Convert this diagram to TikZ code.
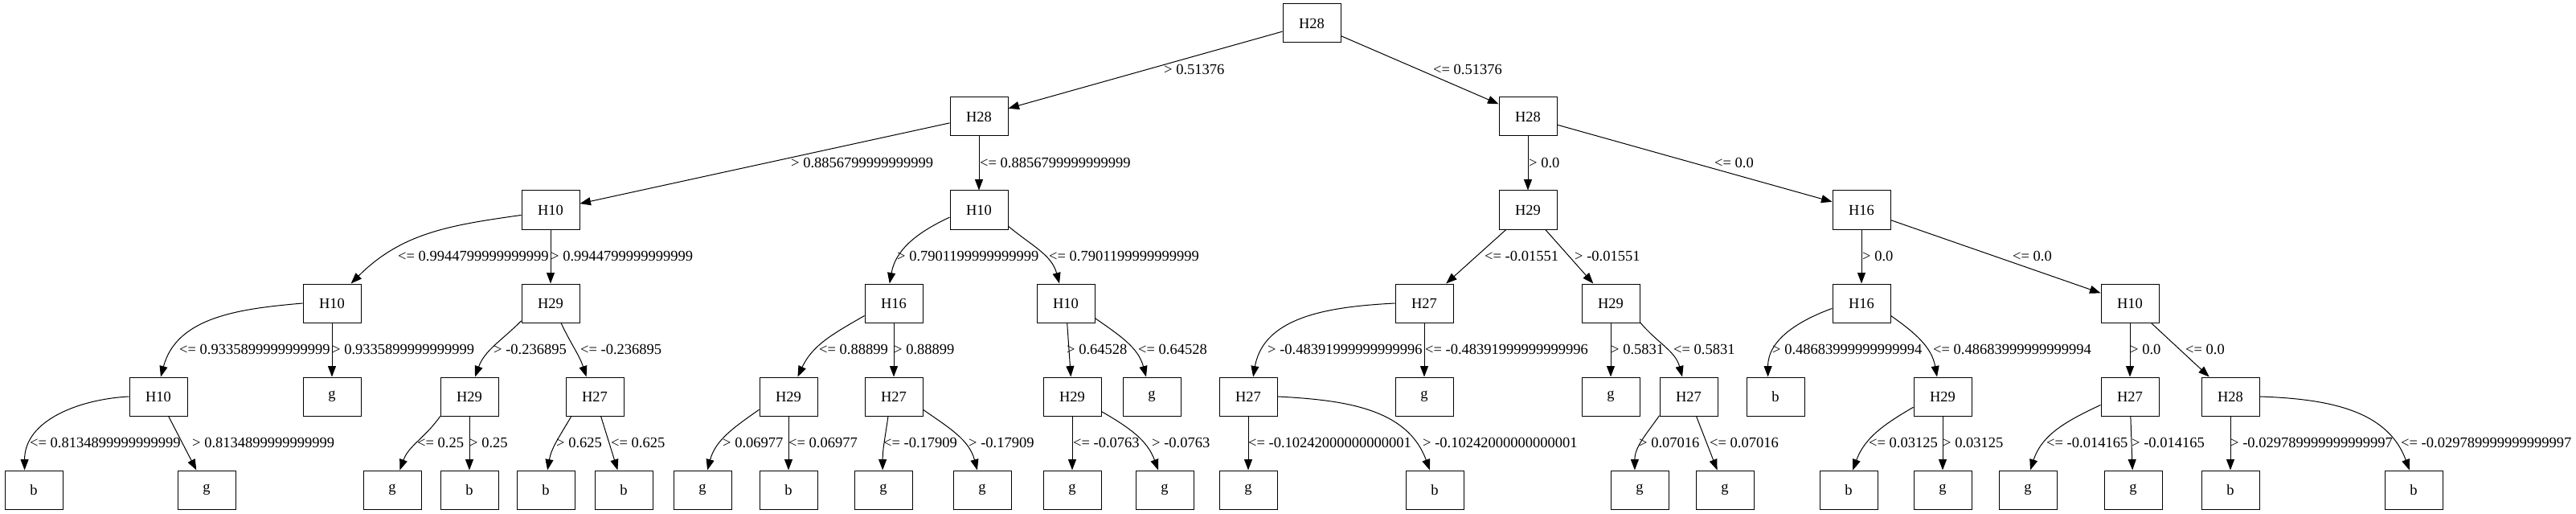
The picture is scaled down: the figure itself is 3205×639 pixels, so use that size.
\documentclass[tikz,border=0pt]{standalone}
\usepackage{fontspec}
\setmainfont{Liberation Serif}
\usepackage{tikz}
\usetikzlibrary{arrows.meta}

\begin{document}
\begin{tikzpicture}[x=1pt, y=1pt,
    every node/.style={font=\fontsize{18.5}{22}\selectfont},
    testbox/.style={draw, line width=1pt, minimum width=72pt, minimum height=48pt, inner sep=0pt},
    leafbox/.style={testbox},
    cond/.style={anchor=west, inner sep=0pt},
    link/.style={line width=1pt, -{Triangle[length=13.5pt, width=10pt]}}]
    \fill[white] (0,0) rectangle (3205,-639);
    \useasboundingbox (0,0) rectangle (3205,-639);

    % Root
    \node[testbox] (r) at (1632,-29) {H28};

    % Level 1
    \node[testbox] (n1a) at (1218,-145) {H28};
    \node[testbox] (n1b) at (1901,-145) {H28};

    % Level 2
    \node[testbox] (n2a) at (685,-261) {H10};
    \node[testbox] (n2b) at (1218,-261) {H10};
    \node[testbox] (n2c) at (1901,-261) {H29};
    \node[testbox] (n2d) at (2316,-261) {H16};

    % Level 3
    \node[testbox] (n3a) at (413,-377) {H10};
    \node[testbox] (n3b) at (685,-377) {H29};
    \node[testbox] (n3c) at (1112,-377) {H16};
    \node[testbox] (n3d) at (1326,-377) {H10};
    \node[testbox] (n3e) at (1772,-377) {H27};
    \node[testbox] (n3f) at (2004,-377) {H29};
    \node[testbox] (n3g) at (2316,-377) {H16};
    \node[testbox] (n3h) at (2650,-377) {H10};

    % Level 4
    \node[testbox] (n4a) at (197,-493) {H10};
    \node[leafbox] (n4b) at (413,-493) {g};
    \node[testbox] (n4c) at (584,-493) {H29};
    \node[testbox] (n4d) at (740,-493) {H27};
    \node[testbox] (n4e) at (981,-493) {H29};
    \node[testbox] (n4f) at (1112,-493) {H27};
    \node[testbox] (n4g) at (1334,-493) {H29};
    \node[leafbox] (n4h) at (1433,-493) {g};
    \node[testbox] (n4i) at (1553,-493) {H27};
    \node[leafbox] (n4j) at (1772,-493) {g};
    \node[leafbox] (n4k) at (2004,-493) {g};
    \node[testbox] (n4l) at (2101,-493) {H27};
    \node[leafbox] (n4m) at (2209,-493) {b};
    \node[testbox] (n4n) at (2417,-493) {H29};
    \node[testbox] (n4o) at (2650,-493) {H27};
    \node[testbox] (n4p) at (2775,-493) {H28};

    % Leaves
    \node[leafbox] (l5a) at (42,-609) {b};
    \node[leafbox] (l5b) at (257,-609) {g};
    \node[leafbox] (l5c) at (488,-609) {g};
    \node[leafbox] (l5d) at (584,-609) {b};
    \node[leafbox] (l5e) at (679,-609) {b};
    \node[leafbox] (l5f) at (776,-609) {b};
    \node[leafbox] (l5g) at (874,-609) {g};
    \node[leafbox] (l5h) at (981,-609) {b};
    \node[leafbox] (l5i) at (1099,-609) {g};
    \node[leafbox] (l5j) at (1222,-609) {g};
    \node[leafbox] (l5k) at (1334,-609) {g};
    \node[leafbox] (l5l) at (1449,-609) {g};
    \node[leafbox] (l5m) at (1553,-609) {g};
    \node[leafbox] (l5n) at (1785,-609) {b};
    \node[leafbox] (l5o) at (2040,-609) {g};
    \node[leafbox] (l5p) at (2146,-609) {g};
    \node[leafbox] (l5q) at (2300,-609) {b};
    \node[leafbox] (l5r) at (2417,-609) {g};
    \node[leafbox] (l5s) at (2523,-609) {g};
    \node[leafbox] (l5t) at (2654,-609) {g};
    \node[leafbox] (l5u) at (2775,-609) {b};
    \node[leafbox] (l5v) at (3003,-609) {b};

    % Arrows, levels 0-2
    \draw[link] (r) -- (n1a);
    \draw[link] (r) -- (n1b);
    \draw[link] (n1a) -- (n2a);
    \draw[link] (n1a) -- (n2b);
    \draw[link] (n1b) -- (n2c);
    \draw[link] (n1b) -- (n2d);

    % Arrows, level 2-3
    \draw[link] (n2a.190) to[out=188, in=45] (n3a.46);
    \draw[link] (n2a) -- (n3b);
    \draw[link] (n2b.194) to[out=205, in=80] (n3c.102);
    \draw[link] (n2b.331) to[out=-40, in=105] (n3d.108);
    \draw[link] (n2c) -- (n3e);
    \draw[link] (n2c) -- (n3f);
    \draw[link] (n2d) -- (n3g);
    \draw[link] (n2d) -- (n3h);

    % Arrows, level 3-4
    \draw[link] (n3a.west) to[out=185, in=75] (n4a.83);
    \draw[link] (n3a) -- (n4b);
    \draw[link] (n3b.211) to[out=225, in=70] (n4c.74);
    \draw[link] (n3b.298) to[out=-65, in=108] (n4d.113);
    \draw[link] (n3c.203) to[out=210, in=65] (n4e.65);
    \draw[link] (n3c) -- (n4f);
    \draw[link] (n3d) -- (n4g);
    \draw[link] (n3d.333) to[out=-35, in=105] (n4h.106);
    \draw[link] (n3e.west) to[out=183, in=80] (n4i.76);
    \draw[link] (n3e) -- (n4j);
    \draw[link] (n3f) -- (n4k);
    \draw[link] (n3f.327) to[out=-50, in=105] (n4l.108);
    \draw[link] (n3g.190) to[out=200, in=90] (n4m.111);
    \draw[link] (n3g.337) to[out=-35, in=100] (n4n.106);
    \draw[link] (n3h) -- (n4o);
    \draw[link] (n3h) -- (n4p);

    % Arrows, level 4-5
    \draw[link] (n4a.west) to[out=183, in=90] (l5a.115);
    \draw[link] (n4a) -- (l5b);
    \draw[link] (n4c.214) to[out=235, in=70] (l5c.69);
    \draw[link] (n4c) -- (l5d);
    \draw[link] (n4d.220) to[out=240, in=80] (l5e.85);
    \draw[link] (n4d) -- (l5f);
    \draw[link] (n4e.204) to[out=215, in=75] (l5g.76);
    \draw[link] (n4e) -- (l5h);
    \draw[link] (n4f.254) to[out=262, in=90] (l5i.92);
    \draw[link] (n4f.336) to[out=-35, in=105] (l5j.104);
    \draw[link] (n4g) -- (l5k);
    \draw[link] (n4g.333) to[out=-30, in=110] (l5l.108);
    \draw[link] (n4i) -- (l5m);
    \draw[link] (n4i.east) to[out=-3, in=110] (l5n.104);
    \draw[link] (n4l.213) to[out=235, in=90] (l5o.104);
    \draw[link] (n4l) -- (l5p);
    \draw[link] (n4n.200) to[out=210, in=70] (l5q.78);
    \draw[link] (n4n) -- (l5r);
    \draw[link] (n4o.196) to[out=205, in=72] (l5s.83);
    \draw[link] (n4o) -- (l5t);
    \draw[link] (n4p) -- (l5u);
    \draw[link] (n4p.east) to[out=-2, in=110] (l5v.102);

    % Split conditions
    \node[cond] (c1a) at (1448,-86) {> 0.51376};
    \node[cond] (c1b) at (1783,-86) {<= 0.51376};

    \node[cond] (c2a) at (984,-202) {> 0.8856799999999999};
    \node[cond] (c2b) at (1219,-202) {<= 0.8856799999999999};
    \node[cond] (c2c) at (1902,-202) {> 0.0};
    \node[cond] (c2d) at (2133,-202) {<= 0.0};

    \node[cond] (c3a) at (495,-318) {<= 0.9944799999999999};
    \node[cond] (c3b) at (685,-318) {> 0.9944799999999999};
    \node[cond] (c3c) at (1116,-318) {> 0.7901199999999999};
    \node[cond] (c3d) at (1305,-318) {<= 0.7901199999999999};
    \node[cond] (c3e) at (1847,-318) {<= -0.01551};
    \node[cond] (c3f) at (1959,-318) {> -0.01551};
    \node[cond] (c3g) at (2317,-318) {> 0.0};
    \node[cond] (c3h) at (2504,-318) {<= 0.0};

    \node[cond] (c4a) at (223,-434) {<= 0.9335899999999999};
    \node[cond] (c4b) at (413,-434) {> 0.9335899999999999};
    \node[cond] (c4c) at (614,-434) {> -0.236895};
    \node[cond] (c4d) at (722,-434) {<= -0.236895};
    \node[cond] (c4e) at (1019,-434) {<= 0.88899};
    \node[cond] (c4f) at (1112,-434) {> 0.88899};
    \node[cond] (c4g) at (1327,-434) {> 0.64528};
    \node[cond] (c4h) at (1416,-434) {<= 0.64528};
    \node[cond] (c4i) at (1577,-434) {> -0.48391999999999996};
    \node[cond] (c4j) at (1773,-434) {<= -0.48391999999999996};
    \node[cond] (c4k) at (2004,-434) {> 0.5831};
    \node[cond] (c4l) at (2082,-434) {<= 0.5831};
    \node[cond] (c4m) at (2205,-434) {> 0.48683999999999994};
    \node[cond] (c4n) at (2405,-434) {<= 0.48683999999999994};
    \node[cond] (c4o) at (2650,-434) {> 0.0};
    \node[cond] (c4p) at (2719,-434) {<= 0.0};

    \node[cond] (c5a) at (37,-550) {<= 0.8134899999999999};
    \node[cond] (c5b) at (239,-550) {> 0.8134899999999999};
    \node[cond] (c5c) at (519,-550) {<= 0.25};
    \node[cond] (c5d) at (584,-550) {> 0.25};
    \node[cond] (c5e) at (692,-550) {> 0.625};
    \node[cond] (c5f) at (760,-550) {<= 0.625};
    \node[cond] (c5g) at (899,-550) {> 0.06977};
    \node[cond] (c5h) at (981,-550) {<= 0.06977};
    \node[cond] (c5i) at (1099,-550) {<= -0.17909};
    \node[cond] (c5j) at (1205,-550) {> -0.17909};
    \node[cond] (c5k) at (1335,-550) {<= -0.0763};
    \node[cond] (c5l) at (1433,-550) {> -0.0763};
    \node[cond] (c5m) at (1553,-550) {<= -0.10242000000000001};
    \node[cond] (c5n) at (1770,-550) {> -0.10242000000000001};
    \node[cond] (c5o) at (2039,-550) {> 0.07016};
    \node[cond] (c5p) at (2127,-550) {<= 0.07016};
    \node[cond] (c5q) at (2325,-550) {<= 0.03125};
    \node[cond] (c5r) at (2417,-550) {> 0.03125};
    \node[cond] (c5s) at (2546,-550) {<= -0.014165};
    \node[cond] (c5t) at (2652,-550) {> -0.014165};
    \node[cond] (c5u) at (2775,-550) {> -0.029789999999999997};
    \node[cond] (c5v) at (2987,-550) {<= -0.029789999999999997};
\end{tikzpicture}
\end{document}
